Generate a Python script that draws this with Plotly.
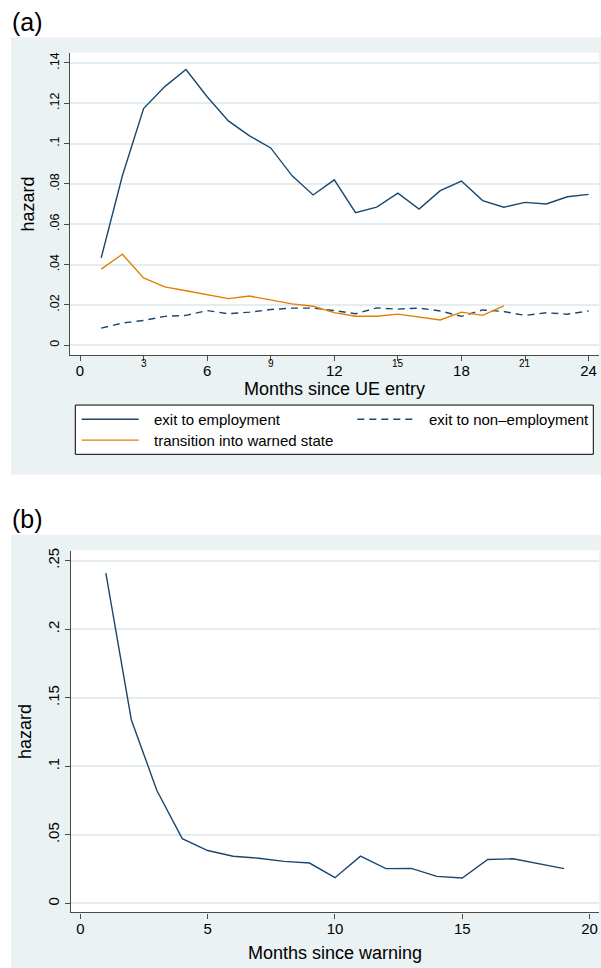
import plotly.graph_objects as go

W, H = 601, 968

# ---------------- data ----------------
months_a = list(range(1, 25))
exit_employment = [0.0433, 0.0840, 0.1173, 0.1282, 0.1367, 0.1232, 0.1112, 0.1038,
                   0.0978, 0.0841, 0.0745, 0.0820, 0.0657, 0.0685, 0.0754, 0.0675,
                   0.0766, 0.0814, 0.0717, 0.0684, 0.0708, 0.0700, 0.0736, 0.0748]
exit_nonemployment = [0.0085, 0.0110, 0.0123, 0.0143, 0.0148, 0.0172, 0.0156, 0.0164,
                      0.0177, 0.0184, 0.0184, 0.0172, 0.0156, 0.0185, 0.0179, 0.0184,
                      0.0170, 0.0143, 0.0175, 0.0167, 0.0148, 0.0161, 0.0154, 0.0170]
months_warned = list(range(1, 21))
warned_transition = [0.0377, 0.0451, 0.0334, 0.0289, 0.0270, 0.0251, 0.0231, 0.0244,
                     0.0223, 0.0205, 0.0193, 0.0162, 0.0144, 0.0144, 0.0154, 0.0138,
                     0.0125, 0.0164, 0.0148, 0.0195]

months_b = list(range(1, 20))
hazard_after_warning = [0.2408, 0.1340, 0.0826, 0.0473, 0.0386, 0.0345, 0.0330, 0.0307,
                        0.0295, 0.0188, 0.0345, 0.0254, 0.0256, 0.0198, 0.0186, 0.0321,
                        0.0326, 0.0290, 0.0254]

series_names = ["exit to employment", "exit to non\u2013employment",
                "transition into warned state"]

ytick_a_vals = [0, 0.02, 0.04, 0.06, 0.08, 0.10, 0.12, 0.14]
ytick_a_text = ["0", ".02", ".04", ".06", ".08", ".1", ".12", ".14"]
xtick_a_vals = [0, 3, 6, 9, 12, 15, 18, 21, 24]
xtick_a_text = ["0", "", "6", "", "12", "", "18", "", "24"]
xminor_a_vals = [3, 9, 15, 21]
xminor_a_text = ["3", "9", "15", "21"]
ytick_b_vals = [0, 0.05, 0.10, 0.15, 0.20, 0.25]
ytick_b_text = ["0", ".05", ".1", ".15", ".2", ".25"]
xtick_b_vals = [0, 5, 10, 15, 20]
xtick_b_text = ["0", "5", "10", "15", "20"]

# ---------------- style ----------------
NAVY = "#1a476f"
ORANGE = "#e37e00"
BG = "#eaf2f3"
GRID = "#e3ecee"
AXIS = "#4a4a4a"
FONT = "Liberation Sans, Arial, Helvetica, sans-serif"
DASH = "7px,5px"


def px(x):
    return x / W


def py(y):
    return 1 - y / H


fig = go.Figure()

fig.add_trace(go.Scatter(x=months_a, y=exit_employment, mode="lines",
                         name=series_names[0], showlegend=False,
                         line=dict(color=NAVY, width=1.4), xaxis="x", yaxis="y"))
fig.add_trace(go.Scatter(x=months_a, y=exit_nonemployment, mode="lines",
                         name=series_names[1], showlegend=False,
                         line=dict(color=NAVY, width=1.4, dash=DASH),
                         xaxis="x", yaxis="y"))
fig.add_trace(go.Scatter(x=months_warned, y=warned_transition, mode="lines",
                         name=series_names[2], showlegend=False,
                         line=dict(color=ORANGE, width=1.4), xaxis="x", yaxis="y"))
fig.add_trace(go.Scatter(x=months_b, y=hazard_after_warning, mode="lines",
                         name="hazard after warning", showlegend=False,
                         line=dict(color=NAVY, width=1.4), xaxis="x2", yaxis="y2"))

# plot-area pixel boxes
A = dict(l=70, r=599, t=50, b=353)
B = dict(l=71, r=599, t=549.3, b=912.3)

axis_common = dict(showline=True, linecolor=AXIS, linewidth=1.2, mirror=False,
                   ticks="outside", ticklen=5, tickcolor=AXIS, tickwidth=1.2,
                   zeroline=False, tickmode="array")

fig.update_layout(
    width=W, height=H,
    margin=dict(l=0, r=0, t=0, b=0),
    paper_bgcolor="white", plot_bgcolor="rgba(0,0,0,0)",
    font=dict(family=FONT, color="black"),
    showlegend=False,
    xaxis=dict(domain=[px(A["l"]), px(A["r"])], anchor="y",
               range=[-0.472, 24.49], tickvals=xtick_a_vals, ticktext=xtick_a_text,
               tickfont=dict(size=15), showgrid=False, ticklabelstandoff=-3,
               title=dict(text="Months since UE entry", font=dict(size=18), standoff=3),
               **axis_common),
    yaxis=dict(domain=[py(A["b"]), py(A["t"])], anchor="x",
               range=[-0.00479, 0.14494], tickvals=ytick_a_vals, ticktext=ytick_a_text,
               tickfont=dict(size=12.5), tickangle=-90, showgrid=True,
               gridcolor=GRID, gridwidth=1.5,
               title=dict(text="hazard", font=dict(size=18), standoff=8),
               **axis_common),
    xaxis2=dict(domain=[px(B["l"]), px(B["r"])], anchor="y2",
                range=[-0.369, 20.37], tickvals=xtick_b_vals, ticktext=xtick_b_text,
                tickfont=dict(size=15), showgrid=False, ticklabelstandoff=-3,
                title=dict(text="Months since warning", font=dict(size=18), standoff=10),
                **axis_common),
    yaxis2=dict(domain=[py(B["b"]), py(B["t"])], anchor="x2",
                range=[-0.00654, 0.2573], tickvals=ytick_b_vals, ticktext=ytick_b_text,
                tickfont=dict(size=15), tickangle=-90, showgrid=True,
                gridcolor=GRID, gridwidth=1.5,
                title=dict(text="hazard", font=dict(size=18), standoff=8),
                **axis_common),
)

# background panels (graph region) and white plot regions
shapes = []
for (top, bot) in [(34.3, 473.3), (533.3, 968)]:
    shapes.append(dict(type="rect", xref="paper", yref="paper", layer="below",
                       x0=px(11), x1=1, y0=py(bot), y1=py(top),
                       fillcolor=BG, line=dict(width=0)))
for box in (A, B):
    shapes.append(dict(type="rect", xref="paper", yref="paper", layer="below",
                       x0=px(box["l"]), x1=px(box["r"]), y0=py(box["b"]), y1=py(box["t"]),
                       fillcolor="white", line=dict(width=0)))

# legend box (Stata style, two columns)
LEG = dict(l=75.3, r=593.3, t=403.3, b=452.7)
shapes.append(dict(type="rect", xref="paper", yref="paper", layer="below",
                   x0=px(LEG["l"]), x1=px(LEG["r"]), y0=py(LEG["b"]), y1=py(LEG["t"]),
                   fillcolor="white", line=dict(color="black", width=1)))
legend_items = [  # (sample x0, row y, text x, colour, dash, label)
    (81.7, 417.5, 151.7, NAVY, "solid", series_names[0]),
    (357.3, 417.5, 426.7, NAVY, DASH, series_names[1]),
    (81.7, 438.5, 151.7, ORANGE, "solid", series_names[2]),
]
annotations = []
for sx, ry, tx, col, dsh, label in legend_items:
    shapes.append(dict(type="line", xref="paper", yref="paper", layer="above",
                       x0=px(sx), x1=px(sx + 57), y0=py(ry), y1=py(ry),
                       line=dict(color=col, width=1.4, dash=dsh)))
    annotations.append(dict(text=label, x=px(tx), y=py(ry), xref="paper", yref="paper",
                            xanchor="left", yanchor="middle", showarrow=False,
                            font=dict(size=15)))
fig.update_layout(shapes=shapes)

annotations += [
    dict(text="(a)", x=px(10), y=py(19), xref="paper", yref="paper",
         xanchor="left", yanchor="middle", showarrow=False, font=dict(size=25)),
    dict(text="(b)", x=px(10), y=py(518), xref="paper", yref="paper",
         xanchor="left", yanchor="middle", showarrow=False, font=dict(size=25)),
]
for v, t in zip(xminor_a_vals, xminor_a_text):
    annotations.append(dict(text=t, x=v, y=py(362), xref="x", yref="paper",
                            xanchor="center", yanchor="middle", showarrow=False,
                            font=dict(size=10)))
fig.update_layout(annotations=annotations)

fig.write_html("out.html",
               config={"displayModeBar": False},
               post_script="document.body.style.margin='0';"
                           "document.documentElement.style.overflow='hidden';")
